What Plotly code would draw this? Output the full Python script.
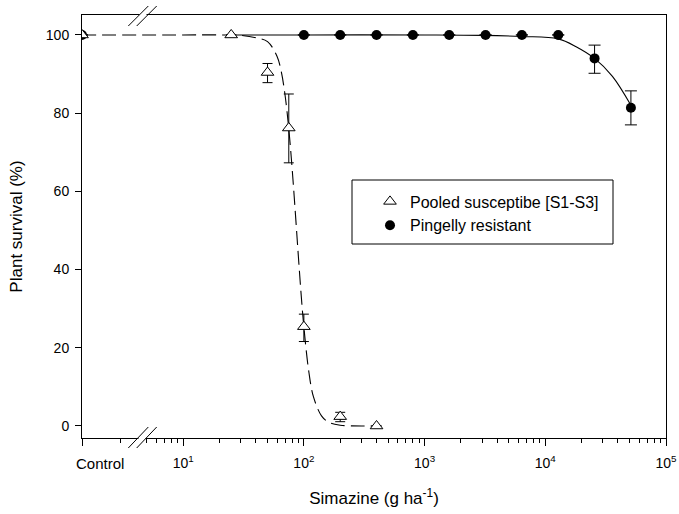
import plotly.graph_objects as go

# ---------------- data ----------------
control_x = 10 ** 0.162  # position used for the "Control" treatment on the log axis

sus_x = [control_x, 25, 50, 75, 100, 200, 400]
sus_y = [100, 100, 90.4, 76.2, 25.4, 2.4, 0]
sus_err_plus = [0, 0, 2.3, 8.7, 3.2, 1.1, 0]
sus_err_minus = [0, 0, 2.6, 8.9, 3.8, 1.3, 0]

res_x = [control_x, 100, 200, 400, 800, 1600, 3200, 6400, 12800, 25600, 51200]
res_y = [100, 100, 100, 100, 100, 100, 100, 100, 100, 94.0, 81.4]
res_err_plus = [0, 0, 0, 0, 0, 0, 0, 0, 0, 3.4, 4.3]
res_err_minus = [0, 0, 0, 0, 0, 0, 0, 0, 0, 3.8, 4.4]

# fitted curves
sus_fit_x = [control_x, 10, 20, 30, 40, 50, 60, 65, 70, 75, 80, 85, 90, 95, 100,
             110, 120, 140, 160, 200, 300, 400]
sus_fit_y = [100, 100, 100, 99.9, 99.3, 98.3, 94.5, 90.6, 84.4, 76.0, 65.7, 54.5,
             43.5, 33.5, 25.3, 13.8, 7.5, 2.6, 1.0, 0.2, 0, 0]
res_fit_x = [25, 100, 1000, 3000, 6400, 12800, 18000, 25600, 36000, 51200]
res_fit_y = [100, 100, 100, 99.9, 99.6, 99.0, 97.0, 94.0, 89.4, 82.0]

major_ticks = [control_x, 10, 100, 1000, 10000, 100000]
major_labels = ["", "10<sup>1</sup>", "10<sup>2</sup>", "10<sup>3</sup>",
                "10<sup>4</sup>", "10<sup>5</sup>"]
minor_ticks = [3, 5, 6, 7, 8, 9] + [m * 10 ** e for e in range(1, 5) for m in range(2, 10)]
y_ticks = [0, 20, 40, 60, 80, 100]

FONT = "Arial, 'Liberation Sans', sans-serif"

# ---------------- figure ----------------
fig = go.Figure()

fig.add_trace(go.Scatter(x=sus_fit_x, y=sus_fit_y, mode="lines", line_shape="spline",
                         line=dict(color="black", width=1.1, dash="14px,6px"),
                         showlegend=False, hoverinfo="skip"))
fig.add_trace(go.Scatter(x=res_fit_x, y=res_fit_y, mode="lines", line_shape="spline",
                         line=dict(color="black", width=1.1),
                         showlegend=False, hoverinfo="skip"))

fig.add_trace(go.Scatter(
    x=res_x, y=res_y, mode="markers", name="Pingelly resistant",
    marker=dict(symbol="circle", size=10, color="black", line=dict(width=0)),
    error_y=dict(type="data", array=res_err_plus, arrayminus=res_err_minus,
                 color="black", thickness=1, width=6),
))
fig.add_trace(go.Scatter(
    x=sus_x, y=sus_y, mode="markers", name="Pooled susceptibe [S1-S3]",
    marker=dict(symbol="triangle-up", size=11, color="white",
                line=dict(color="black", width=1)),
    error_y=dict(type="data", array=sus_err_plus, arrayminus=sus_err_minus,
                 color="black", thickness=1, width=5),
))

L, R, T, B = 82, 13, 15, 76
W, H = 679, 514
pw, ph = W - L - R, H - T - B


def px_x(p):
    return (p - L) / pw


def px_y(p):
    return (H - B - p) / ph


shapes = []
# gaps in the axis lines at the break
shapes.append(dict(type="line", xref="paper", yref="paper", x0=px_x(139.5), x1=px_x(146.5),
                   y0=1, y1=1, line=dict(color="white", width=3), layer="above"))
shapes.append(dict(type="line", xref="paper", yref="paper", x0=px_x(138.5), x1=px_x(145.5),
                   y0=0, y1=0, line=dict(color="white", width=3), layer="above"))
# break slashes
for (x0, y0, x1, y1) in [(128.3, 26, 148.3, 6), (136.7, 26, 156.7, 6),
                         (128.3, 448, 148.3, 427), (136.7, 448, 156.7, 427)]:
    shapes.append(dict(type="line", xref="paper", yref="paper",
                       x0=px_x(x0), y0=px_y(y0), x1=px_x(x1), y1=px_y(y1),
                       line=dict(color="black", width=1), layer="above"))
# legend box
shapes.append(dict(type="rect", xref="paper", yref="paper",
                   x0=px_x(352), x1=px_x(613), y0=px_y(244), y1=px_y(180),
                   line=dict(color="black", width=1), fillcolor="rgba(0,0,0,0)"))

fig.update_layout(
    width=W, height=H,
    margin=dict(l=L, r=R, t=T, b=B, autoexpand=False),
    paper_bgcolor="white", plot_bgcolor="white",
    font=dict(family=FONT, size=14, color="black"),
    shapes=shapes,
    legend=dict(x=px_x(370), y=px_y(184.5), xanchor="left", yanchor="top",
                bgcolor="rgba(0,0,0,0)", borderwidth=0,
                font=dict(family=FONT, size=16, color="black"),
                traceorder="reversed", tracegroupgap=0),
    annotations=[dict(text="Control", xref="paper", yref="paper", x=px_x(100), y=px_y(463),
                      showarrow=False, xanchor="center", yanchor="middle",
                      font=dict(family=FONT, size=15, color="black"))],
)

fig.update_xaxes(
    type="log", range=[0.162, 5], automargin=False,
    tickmode="array", tickvals=major_ticks, ticktext=major_labels,
    ticks="outside", ticklen=7, tickwidth=1, tickcolor="black",
    ticklabelstandoff=5,
    minor=dict(tickmode="array", tickvals=minor_ticks, ticks="outside", ticklen=4,
               tickwidth=1, tickcolor="black", showgrid=False),
    showline=True, linecolor="black", linewidth=1, mirror=True,
    showgrid=False, zeroline=False,
    tickfont=dict(family=FONT, size=14, color="black"),
    title=dict(text="Simazine (g ha<sup>-1</sup>)", standoff=22,
               font=dict(family=FONT, size=17, color="black")),
)
fig.update_yaxes(
    range=[-3.07, 105.1], automargin=False,
    tickmode="array", tickvals=y_ticks,
    ticks="outside", ticklen=6, tickwidth=1, tickcolor="black",
    ticklabelstandoff=3,
    showline=True, linecolor="black", linewidth=1, mirror=True,
    showgrid=False, zeroline=False,
    tickfont=dict(family=FONT, size=14, color="black"),
    title=dict(text="Plant survival (%)", standoff=18,
               font=dict(family=FONT, size=17, color="black")),
)

fig.write_html("out.html", config={"displayModeBar": False},
               post_script="document.body.style.margin='0';document.body.style.overflow='hidden';")
